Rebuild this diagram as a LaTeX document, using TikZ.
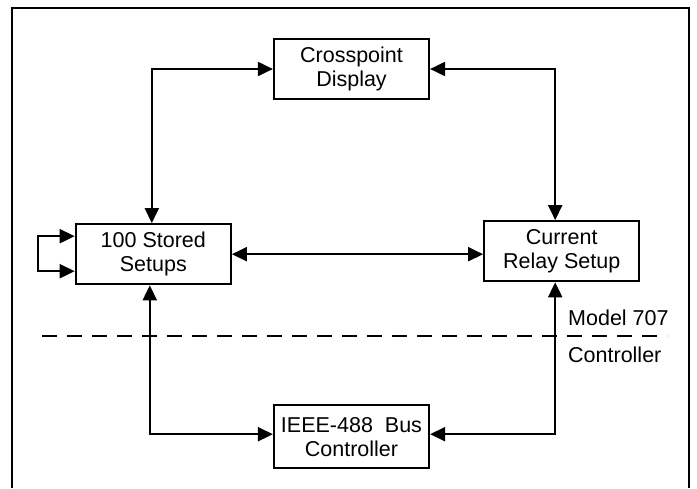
\documentclass[tikz,border=0pt]{standalone}
\usepackage{fontspec}
\setmainfont{Liberation Sans}
\usetikzlibrary{positioning,arrows.meta}

\begin{document}
\begin{tikzpicture}[
  x=1pt, y=-1pt,
  every node/.style={
    rectangle,
    font=\fontsize{21.5}{24}\selectfont,
  },
  block/.style={draw, line width=2.2pt, align=center,
    minimum width=155pt, minimum height=60pt, inner sep=2pt},
  link/.style={line width=2pt, {Triangle[length=15pt,width=14pt]}-{Triangle[length=15pt,width=14pt]}},
  sepline/.style={line width=2pt, dash pattern=on 15pt off 10pt},
]
\useasboundingbox (0,0) rectangle (697,488);
\draw[line width=2pt] (11.5,488) |- (688.5,8) -- (688.5,488);

\node[block] at (351.5,69) (cross) {Crosspoint\\Display};
\node[block,below left=123pt and 41pt of cross] (stored) {100 Stored\\Setups};
\node[block,below right=120pt and 53pt of cross] (relay) {Current\\Relay Setup};
\node[block,below=304pt of cross, minimum height=63pt] (ieee) {IEEE-488\ \ Bus\\Controller};

\node[anchor=base west, inner sep=0pt] at (568,325) (model) {Model 707};
\node[anchor=base west, inner sep=0pt] at (568,362) (ctrl) {Controller};
\draw[sepline] (42,336) -- (667,336);

\path[draw,link] ([xshift=-1.5pt]stored.north) |- (cross.west);
\path[draw,link] (cross.east) -| ([xshift=-6.5pt]relay.north);
\path[draw,link] (stored.east) -- (stored.east -| relay.west);
\path[draw,link] ([xshift=-3.5pt]stored.south) |- ([yshift=2.5pt]ieee.west);
\path[draw,link] ([xshift=-6.5pt]relay.south) |- ([yshift=2.5pt]ieee.east);
\path[draw,link] ([yshift=18pt]stored.west) -- ++(-37,0) -- ++(0,35) -- ([yshift=-17pt]stored.west);
\end{tikzpicture}
\end{document}
